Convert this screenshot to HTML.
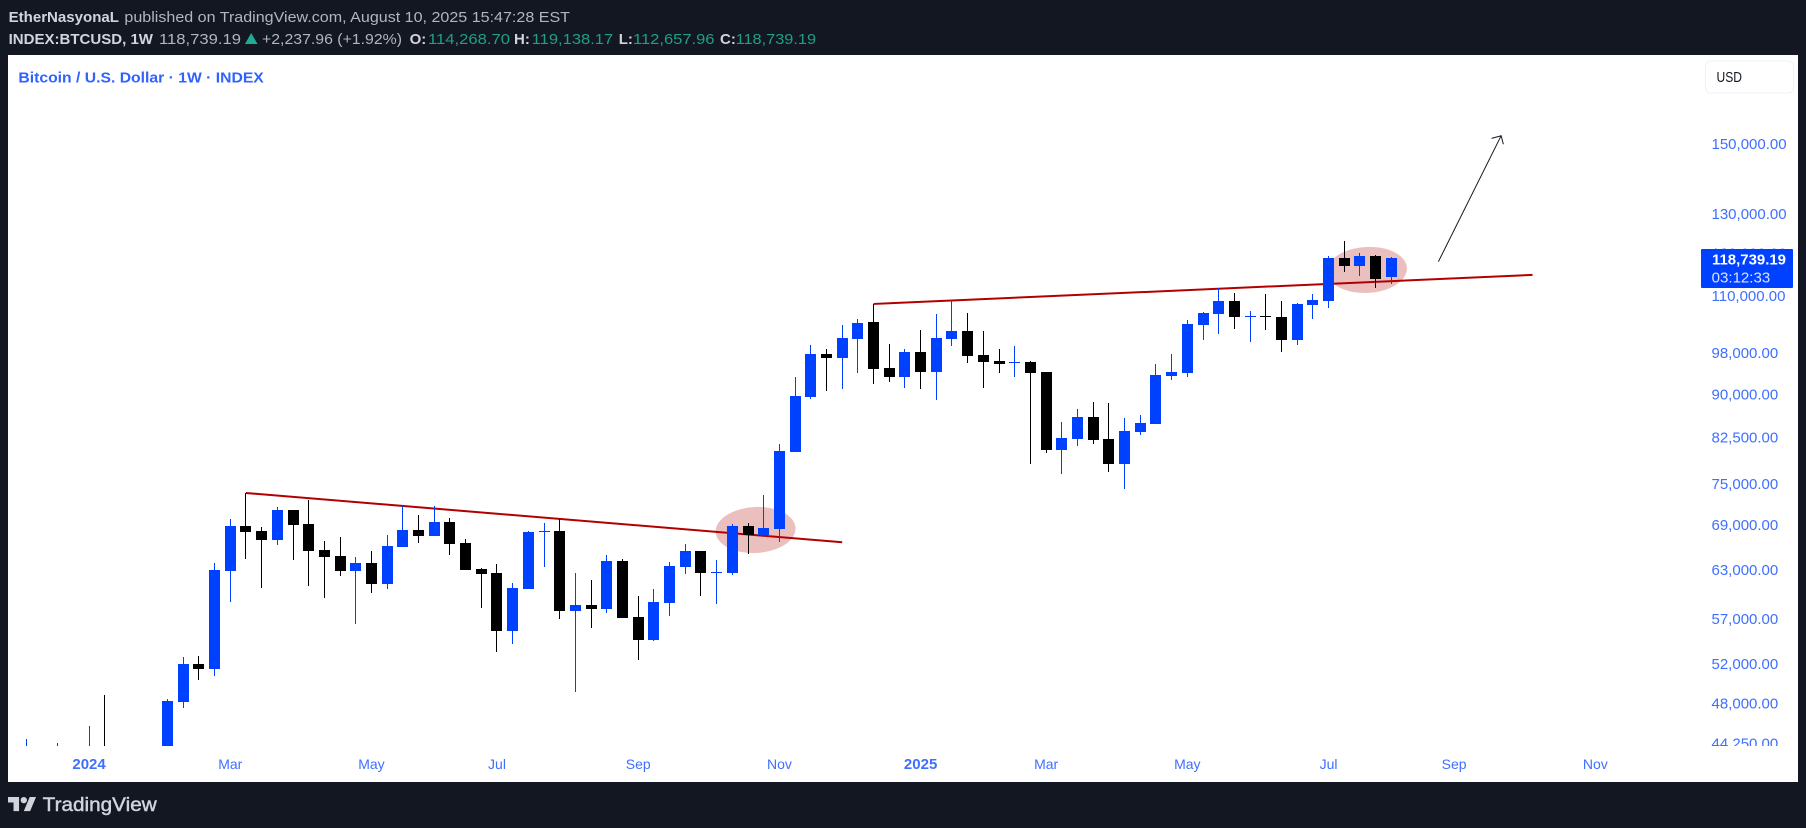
<!DOCTYPE html>
<html lang="en">
<head>
<meta charset="utf-8">
<title>BTCUSD weekly chart</title>
<style>
html,body{margin:0;padding:0;background:#131722;width:1806px;height:828px;overflow:hidden}
svg{display:block;font-family:"Liberation Sans",sans-serif}
</style>
</head>
<body>
<svg id="chart" xmlns="http://www.w3.org/2000/svg" width="1806" height="828" viewBox="0 0 1806 828">
  <defs>
    <clipPath id="plot-clip"><rect x="8" y="55" width="1790" height="691"/></clipPath>
  </defs>
  <rect x="0" y="0" width="1806" height="828" fill="#131722"/>
  <rect x="8" y="55" width="1790" height="727" fill="#ffffff"/>

  <g font-size="15" fill="#b2b5be">
    <text x="8.6" y="22" font-weight="700" fill="#d1d4dc" textLength="110.4" lengthAdjust="spacingAndGlyphs">EtherNasyonaL</text>
    <text x="124.4" y="22" textLength="445.6" lengthAdjust="spacingAndGlyphs">published on TradingView.com, August 10, 2025 15:47:28 EST</text>
    <text x="8.6" y="44" font-weight="700" fill="#d1d4dc" textLength="144.4" lengthAdjust="spacingAndGlyphs">INDEX:BTCUSD, 1W</text>
    <text x="159" y="44" textLength="82" lengthAdjust="spacingAndGlyphs">118,739.19</text>
    <polygon points="245,44 257.5,44 251.2,33" fill="#22ab94"/>
    <text x="262" y="44" textLength="140" lengthAdjust="spacingAndGlyphs">+2,237.96 (+1.92%)</text>
    <text x="409.6" y="44" font-weight="700" fill="#d1d4dc">O:</text>
    <text x="428" y="44" fill="#1f9e8a" textLength="82" lengthAdjust="spacingAndGlyphs">114,268.70</text>
    <text x="514" y="44" font-weight="700" fill="#d1d4dc">H:</text>
    <text x="531.7" y="44" fill="#1f9e8a" textLength="81.5" lengthAdjust="spacingAndGlyphs">119,138.17</text>
    <text x="618.7" y="44" font-weight="700" fill="#d1d4dc">L:</text>
    <text x="633" y="44" fill="#1f9e8a" textLength="81.5" lengthAdjust="spacingAndGlyphs">112,657.96</text>
    <text x="720" y="44" font-weight="700" fill="#d1d4dc">C:</text>
    <text x="735.6" y="44" fill="#1f9e8a" textLength="80.5" lengthAdjust="spacingAndGlyphs">118,739.19</text>
  </g>

  <text x="18.4" y="82.5" font-size="15" font-weight="700" fill="#2f62ff" textLength="245.4" lengthAdjust="spacingAndGlyphs">Bitcoin / U.S. Dollar · 1W · INDEX</text>

  <g id="drawings-layer" clip-path="url(#plot-clip)"></g>
  <g id="candles-layer" clip-path="url(#plot-clip)"></g>
  <g id="price-axis" clip-path="url(#plot-clip)"></g>
  <g id="time-axis"></g>

  <g>
    <rect x="1705.5" y="61" width="88" height="32" rx="5" fill="#ffffff" stroke="#eef1f7" stroke-width="1"/>
    <text x="1716.5" y="82" font-size="15" fill="#131722" textLength="25.5" lengthAdjust="spacingAndGlyphs">USD</text>
  </g>

  <g id="price-tag"></g>

  <g fill="#d1d4dc">
    <g transform="translate(8 793.8) scale(0.79)">
      <path d="M14 22H7V11H0V4h14v18zM28 22h-8l7.5-18h8L28 22z"/>
      <circle cx="20" cy="8" r="4"/>
    </g>
    <text x="42.7" y="811" font-size="19" stroke="#d1d4dc" stroke-width="0.45" textLength="114" lengthAdjust="spacingAndGlyphs">TradingView</text>
  </g>
</svg>

<script>
// ---- chart data (weekly candles, first week below) ----
const firstWeek = "2023-12-04";
const opens = [39970,43800,42200,43400,42300,43900,41700,41600,42000,42580,
48117,51992,51470,62842,68866,68171,66920,71150,69144,65585,
64784,62842,63866,61198,65986,68310,67476,69422,66520,63098,
62586,55612,60583,68032,68171,57927,58638,58164,64122,57216,
54590,58875,63354,65452,62586,62586,68866,67615,68449,80078,
89557,97763,96961,100780,104341,95020,93288,98164,94250,100780,
102456,97563,96368,95983,96175,94250,80405,82211,85983,82211,
78140,83404,84768,93480,94058,103713,106065,108893,105413,105630,
105413,100570,108023,108893,118862,116954,119354,114268.70];
const highs = [44620,43900,44250,43900,45825,48812,43400,42800,43800,48410,
52737,52846,63866,69845,73657,68727,71585,71150,72600,66787,
67337,64651,65452,67615,71730,70425,71730,69990,67059,63226,
63738,61321,68171,69283,69845,62586,61690,64918,64384,59722,
60583,63994,66386,65452,64250,69144,69283,73355,81386,93288,
99568,98765,103713,104978,108240,99768,98765,102665,106065,109110,
106283,102456,98765,99367,96368,94250,85109,87403,88645,88468,
85805,86338,95790,97763,104760,106500,111834,110699,106718,110472,
108893,108458,110472,119354,123040,120090,119600,119138.17];
const lows = [39900,40600,41000,41700,40800,41500,40300,38500,41900,42400,
47538,50320,50738,58993,64384,60706,66253,64250,60952,59476,
62202,56406,60091,60583,65986,66520,67476,64918,62970,58282,
53282,54154,60583,63354,56979,49114,55952,57690,57098,52410,
54481,57335,62458,59722,58756,62330,65052,67337,66653,80078,
89186,90670,91041,94058,91968,92339,91226,91041,89000,99367,
95983,91226,94058,93288,78140,79915,76565,81059,81386,76880,
74261,82893,84768,92710,93288,100570,101827,102875,100169,102665,
98164,99568,104978,107370,115538,114594,111834,112657.96];
const closes = [43800,42200,43400,42300,43900,41700,41600,42000,42580,48214,
51992,51470,62970,68866,68032,66920,71150,69005,65452,64651,
62842,63866,61198,66119,68310,67476,69422,66386,62970,62458,
55612,60706,68032,68171,57927,58638,58164,64122,57098,54590,
58993,63482,65452,62586,62714,68866,67615,68588,80242,89743,
97763,96961,100989,104132,94828,93288,98164,94250,100989,102456,
97362,96175,95790,96175,94058,80405,82381,85983,82040,78140,
83575,84939,93673,94250,103922,106283,108893,105413,105630,105413,
100570,108240,109110,118862,116954,119354,113886,118739.19];

const priceTicks = [150000,130000,120000,110000,98000,90000,82500,75000,69000,63000,57000,52000,48000,44250];
const timeTickDates = ["2024-01-01","2024-03-04","2024-05-06","2024-07-01","2024-09-02","2024-11-04","2025-01-06","2025-03-03","2025-05-05","2025-07-07","2025-09-01","2025-11-03"];
const timeTickLabels = ["2024","Mar","May","Jul","Sep","Nov","2025","Mar","May","Jul","Sep","Nov"];

// drawings anchored in chart units: [week index, price]
const resistanceLine = [[14,73657],[52,66620]];
const supportLine = [[54,108240],[96,114830]];
const forecastArrow = [[90,117970],[94,152460]];
const retestZoneOne = [46.48,68310];
const retestZoneTwo = [85.45,116000];

const countdownText = "03:12:33";

// ---- axis functions ----
function xOf(week){ return 26.29 + week * 15.69; }
function yOf(price){ return 143.7 + 491.1 * Math.log(150000 / price); }
function weekOf(dateStr){ return (Date.parse(dateStr) - Date.parse(firstWeek)) / 604800000; }
function fmt(v){ return v.toLocaleString("en-US",{minimumFractionDigits:2,maximumFractionDigits:2}); }

const NS = "http://www.w3.org/2000/svg";
function mk(tag, parent, attrs){
  const el = document.createElementNS(NS, tag);
  for (const k in attrs) el.setAttribute(k, attrs[k]);
  parent.appendChild(el);
  return el;
}

const drawings = document.getElementById("drawings-layer");
const candlesLayer = document.getElementById("candles-layer");
const priceAxis = document.getElementById("price-axis");
const timeAxis = document.getElementById("time-axis");
const priceTag = document.getElementById("price-tag");

// ---- drawings (below candles) ----
[retestZoneOne, retestZoneTwo].forEach(function(z){
  const cx = xOf(z[0]), cy = yOf(z[1]);
  const el = mk("ellipse", drawings, {cx:cx, cy:cy, rx:40, ry:23, fill:"rgba(178,0,0,0.25)", transform:"rotate(-3 "+cx+" "+cy+")"});
  
  
});
[resistanceLine, supportLine].forEach(function(l){
  const el = mk("line", drawings, {x1:xOf(l[0][0]), y1:yOf(l[0][1]), x2:xOf(l[1][0]), y2:yOf(l[1][1]), stroke:"#b20000", "stroke-width":2});
  
  
});
(function(){
  const x1 = xOf(forecastArrow[0][0]), y1 = yOf(forecastArrow[0][1]);
  const x2 = xOf(forecastArrow[1][0]), y2 = yOf(forecastArrow[1][1]);
  const shaft = mk("line", drawings, {x1:x1, y1:y1, x2:x2, y2:y2, stroke:"#131722", "stroke-width":1});
  
  
  const head = mk("polyline", drawings, {points:(x2-9.5)+","+(y2+2.7)+" "+x2+","+y2+" "+(x2+2.2)+","+(y2+8.5), fill:"none", stroke:"#131722", "stroke-width":1});
  
  
})();

// ---- candles ----
const UP = "#0041ff", DOWN = "#000000";
closes.forEach(function(c, i){
  const o = opens[i], color = c >= o ? UP : DOWN;
  const px = Math.floor(xOf(i));
  const yH = Math.round(yOf(highs[i])), yL = Math.round(yOf(lows[i]));
  const yT = Math.round(yOf(Math.max(o, c))), yB = Math.round(yOf(Math.min(o, c)));
  const wick = mk("rect", candlesLayer, {x:px, y:yH, width:1, height:Math.max(1, yL - yH), fill:color});
  
  
  const body = mk("rect", candlesLayer, {x:px - 5, y:yT, width:11, height:Math.max(1, yB - yT), fill:color});
  
  
});

// ---- price axis ----
priceTicks.forEach(function(p){
  const t = mk("text", priceAxis, {x:1711.5, y:yOf(p) + 5.1, "font-size":15, fill:"#3f6fff"});
  
  
  t.textContent = fmt(p);
});

// ---- time axis ----
timeTickLabels.forEach(function(label, i){
  const isYear = /^\d+$/.test(label);
  const t = mk("text", timeAxis, {x:xOf(weekOf(timeTickDates[i])), y:769, "text-anchor":"middle", "font-size":isYear ? 15 : 14, "font-weight":isYear ? 700 : 400, fill:"#3f6fff"});
  
  
  t.textContent = label;
});

// ---- last price tag ----
(function(){
  const last = closes[closes.length - 1];
  const y = yOf(last);
  const box = mk("rect", priceTag, {x:1701, y:249, width:92, height:39, rx:1, fill:"#0041ff"});
  
  
  const v = mk("text", priceTag, {x:1712, y:y + 5.8, "font-size":15, "font-weight":700, fill:"#ffffff", textLength:74, lengthAdjust:"spacingAndGlyphs"});
  
  
  v.textContent = fmt(last);
  const cd = mk("text", priceTag, {x:1711.7, y:y + 23.8, "font-size":15, fill:"#ffffff", "fill-opacity":0.85, textLength:58.5, lengthAdjust:"spacingAndGlyphs"});
  
  
  cd.textContent = countdownText;
})();
</script>
</body>
</html>
